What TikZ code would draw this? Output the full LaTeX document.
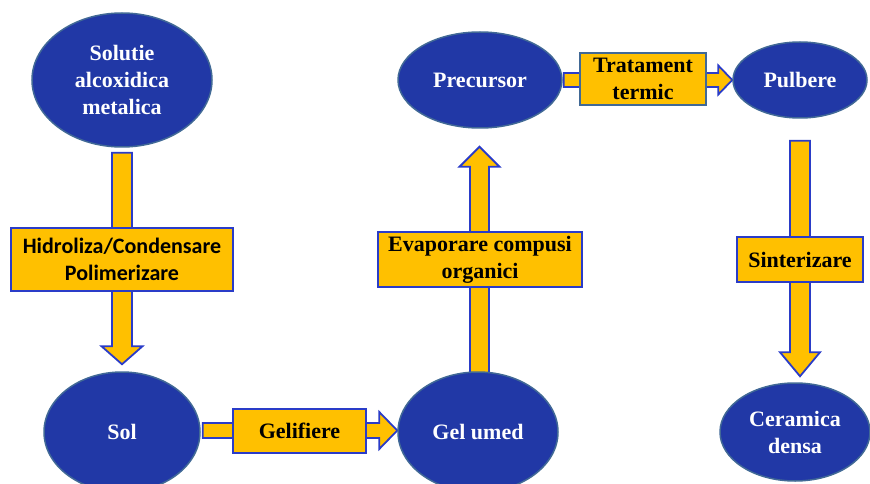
\documentclass[tikz,border=0pt]{standalone}
\usepackage{fontspec}
\setmainfont{Liberation Serif}
\newfontfamily\boxsans{Carlito}
\usetikzlibrary{shapes.geometric,calc,backgrounds}

\definecolor{stagefill}{RGB}{33,56,166}
\definecolor{stagerim}{RGB}{65,105,150}
\definecolor{flowgold}{RGB}{255,192,0}
\definecolor{flowrim}{RGB}{42,60,200}

\tikzset{
  stage/.style={ellipse, fill=stagefill, draw=stagerim, line width=1.5pt,
    text=white, inner sep=0pt, align=center,
    font=\fontsize{22}{27}\selectfont\bfseries},
  procbox/.style={rectangle, fill=flowgold, draw=flowrim, line width=1.8pt,
    inner sep=0pt, align=center, font=\fontsize{22}{27}\selectfont\bfseries},
  flowline/.style={fill=flowgold, draw=flowrim, line width=1.8pt, line join=miter},
}

% block arrows: from, to, half shaft, half head, head length
\newcommand\vflow[5]{%
  \draw[flowline] let \p1=(#1), \p2=(#2), \n1={sign(\y1-\y2)} in
    (\x1-#3,\y1) -- (\x1+#3,\y1) -- (\x1+#3,\y2+\n1*#5) -- (\x1+#4,\y2+\n1*#5)
    -- (\x1,\y2) -- (\x1-#4,\y2+\n1*#5) -- (\x1-#3,\y2+\n1*#5) -- cycle;}
\newcommand\hflow[5]{%
  \draw[flowline] let \p1=(#1), \p2=(#2), \n1={sign(\x1-\x2)} in
    (\x1,\y1-#3) -- (\x1,\y1+#3) -- (\x2+\n1*#5,\y1+#3) -- (\x2+\n1*#5,\y1+#4)
    -- (\x2,\y1) -- (\x2+\n1*#5,\y1-#4) -- (\x2+\n1*#5,\y1-#3) -- cycle;}

\begin{document}
\begin{tikzpicture}[x=1pt, y=-1pt]
  \useasboundingbox (0,0) rectangle (870,484);

  % stages
  \node[stage, minimum width=180pt, minimum height=134pt] (solutie) at (122,80)
    {Solutie\\alcoxidica\\metalica};
  \node[stage, minimum width=156pt, minimum height=120pt] (sol) at (122,432) {Sol};
  \node[stage, minimum width=160pt, minimum height=120pt] (gel) at (478,432) {Gel umed};
  \node[stage, minimum width=164pt, minimum height=96pt] (precursor) at (480,80) {Precursor};
  \node[stage, minimum width=134pt, minimum height=76pt] (pulbere) at (800,80) {Pulbere};
  \node[stage, minimum width=150pt, minimum height=98pt] (ceramica) at (795,432)
    {Ceramica\\densa};

  % steps
  \node[procbox, minimum width=222pt, minimum height=63pt, font=\fontsize{22}{27}\selectfont\boxsans\bfseries]
    (hidroliza) at (122,259.5) {Hidroliza/Condensare\\Polimerizare};
  \node[procbox, minimum width=133pt, minimum height=44pt] (gelifiere) at (299.5,431) {Gelifiere};
  \node[procbox, minimum width=204pt, minimum height=55pt] (evaporare) at (480,259.5)
    {Evaporare compusi\\organici};
  \node[procbox, minimum width=126pt, minimum height=52pt, draw=stagerim] (tratament) at (643,79)
    {Tratament\\termic};
  \node[procbox, minimum width=126pt, minimum height=45pt] (sinterizare) at (800,259.5) {Sinterizare};

  % arrows
  \begin{scope}[on background layer]
    \vflow{$(solutie.south)+(0,5)$}{$(sol.north)+(0,-7)$}{10pt}{20.5pt}{18pt}
    \hflow{$(sol.east)+(2,-1.5)$}{$(gel.west)+(0,-1.5)$}{7.5pt}{18.5pt}{18pt}
    \vflow{$(gel.north)+(1.5,5)$}{$(precursor.south)+(0,18)$}{9.5pt}{20pt}{20pt}
    \hflow{$(precursor.east)+(1,0)$}{pulbere.west}{7pt}{14.5pt}{14pt}
    \vflow{$(pulbere.south)+(0,22)$}{$(pulbere.south |- ceramica.north)+(0,-6)$}{10pt}{20pt}{24pt}
  \end{scope}
\end{tikzpicture}
\end{document}
